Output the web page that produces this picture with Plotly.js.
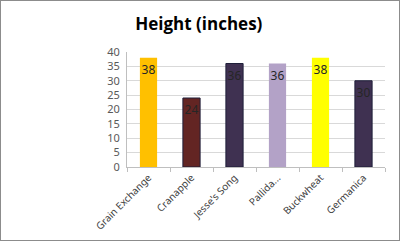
<!DOCTYPE html>
<html><head><meta charset="utf-8">
<script src="https://cdn.plot.ly/plotly-3.0.1.min.js"></script>
<style>
html,body{margin:0;padding:0;background:#fff;}
#wrap{position:relative;width:400px;height:241px;}
#chart{width:400px;height:241px;}
#frame{position:absolute;left:0;top:0;width:398px;height:239px;border:1px solid #8c8c8c;pointer-events:none;}
</style></head>
<body><div id="wrap"><div id="chart"></div><div id="frame"></div></div>
<script>
const categories = ["Grain Exchange", "Cranapple", "Jesse's Song", "Pallida...", "Buckwheat", "Germanica"];
const heights = [38, 24, 36, 36, 38, 30];
const barColors = ["#FFC000", "#632523", "#3F3151", "#B3A2C7", "#FFFF00", "#3F3151"];
const yTicks = [0, 5, 10, 15, 20, 25, 30, 35, 40];

Plotly.newPlot('chart', [{
  type: 'bar',
  x: categories,
  y: heights,
  text: heights.map(String),
  textposition: 'inside',
  insidetextanchor: 'end',
  constraintext: 'none',
  textangle: 0,
  textfont: {family: 'Noto Sans, sans-serif', size: 12, color: '#262626'},
  marker: {color: barColors, line: {color: '#1f1f3a', width: [0,1,1,0,0,1]}},
  width: 0.4,
  hoverinfo: 'skip'
}], {
  width: 400, height: 241,
  margin: {l: 127, r: 15, t: 52, b: 74},
  paper_bgcolor: '#fff', plot_bgcolor: '#fff',
  showlegend: false,
  title: {text: '<b>Height (inches)</b>', font: {family: 'Open Sans, sans-serif', size: 17, color: '#000'}, x: 0.497, xanchor: 'center', y: 0.9, yanchor: 'middle'},
  xaxis: {
    type: 'category',
    showline: true, linecolor: '#bfbfbf', linewidth: 1,
    ticks: 'outside', tickson: 'boundaries', ticklen: 4, tickcolor: '#bfbfbf',
    tickangle: -45,
    tickfont: {family: 'Noto Sans, sans-serif', size: 10, color: '#404040'},
    showgrid: false
  },
  yaxis: {
    range: [0, 40], tickvals: yTicks,
    showline: true, linecolor: '#bfbfbf', linewidth: 1,
    showgrid: true, gridcolor: '#d9d9d9', gridwidth: 1,
    zeroline: false,
    ticks: '', ticklabelstandoff: 4,
    tickfont: {family: 'Noto Sans, sans-serif', size: 11, color: '#595959'}
  }
}, {staticPlot: true, displayModeBar: false});
</script></body></html>
